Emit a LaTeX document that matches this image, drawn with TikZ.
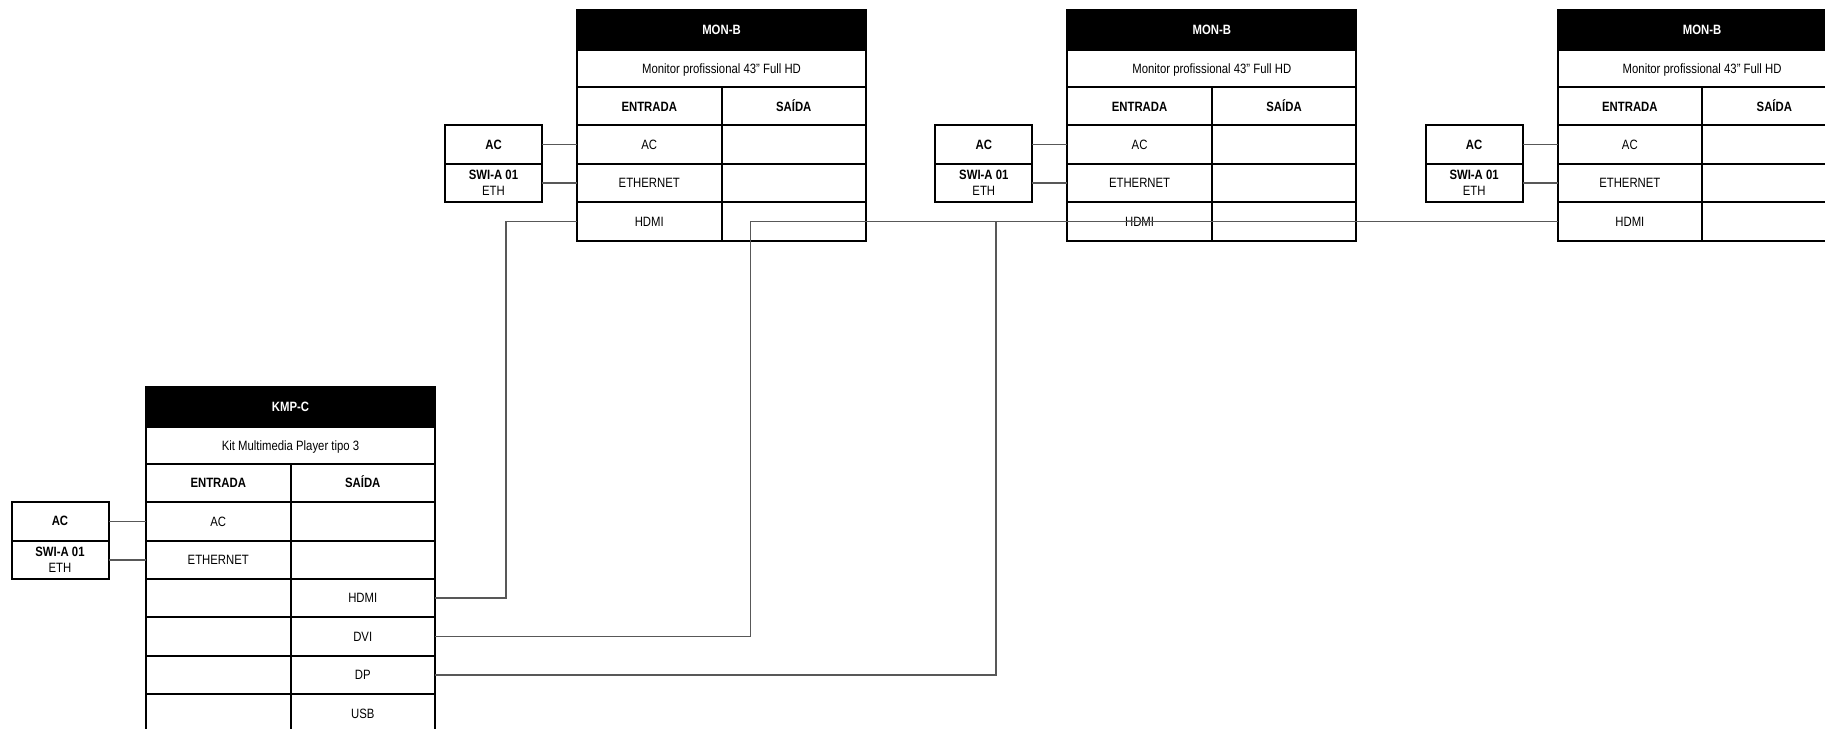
\documentclass[tikz,border=0pt]{standalone}
\usepackage{fontspec}
\setmainfont{Liberation Sans}[FakeStretch=0.84]
\usetikzlibrary{positioning,calc}

\definecolor{wiregray}{HTML}{585858}
\newcommand\cellfont{\fontsize{13.5}{16}\selectfont}

\begin{document}
\begin{tikzpicture}[x=1pt, y=-1pt,
    head/.style={rectangle, draw=black, fill=black, text=white, font=\cellfont\bfseries, line width=2pt, minimum width=289pt, minimum height=40pt, text height=9.7pt, text depth=0pt, inner sep=0pt, outer sep=0pt},
    desc/.style={rectangle, draw, line width=2pt, minimum width=289pt, minimum height=37pt, text height=9.7pt, text depth=0pt, inner sep=0pt, outer sep=0pt, font=\cellfont},
    cell/.style={rectangle, draw, line width=2pt, minimum width=144.5pt, minimum height=38.4pt, text height=9.7pt, text depth=0pt, inner sep=0pt, outer sep=0pt, font=\cellfont},
    side/.style={rectangle, draw, line width=2pt, minimum width=97pt, minimum height=38.4pt, inner sep=0pt, outer sep=0pt, font=\cellfont, align=center},
    wire/.style={draw=wiregray, line width=1.6pt}]
        \useasboundingbox (0,0) rectangle (1825,728);

        % Monitores MON-B
        \foreach \i/\x in {1/577, 2/1067.3, 3/1557.6} {
            \node (mon\i-head) [head, anchor=north west] at (\x,10) {MON-B};
            \node (mon\i-desc) [desc, below=0pt of mon\i-head] {Monitor profissional 43" Full HD};
            \node (mon\i-in0) [cell, font=\cellfont\bfseries, anchor=north west] at (mon\i-desc.south west) {ENTRADA};
            \node (mon\i-out0) [cell, font=\cellfont\bfseries, right=0pt of mon\i-in0] {SAÍDA};
            \foreach \n/\a [remember=\n as \p (initially 0)] in {1/AC, 2/ETHERNET, 3/HDMI} {
                \node (mon\i-in\n) [cell, below=0pt of mon\i-in\p] {\a};
                \node (mon\i-out\n) [cell, right=0pt of mon\i-in\n] {};
            }
            % alimentacao e rede
            \node (mon\i-ac) [side, font=\cellfont\bfseries, left=35pt of mon\i-in1] {AC};
            \node (mon\i-eth) [side, below=0pt of mon\i-ac] {\textbf{SWI-A 01}\\ETH};
            \draw[wire] (mon\i-ac) -- (mon\i-in1);
            \draw[wire] (mon\i-eth) -- (mon\i-in2);
        }

        % Player KMP-C
        \node (kmp-head) [head, anchor=north west] at (146,386.7) {KMP-C};
        \node (kmp-desc) [desc, below=0pt of kmp-head] {Kit Multimedia Player tipo 3};
        \node (kmp-in0) [cell, font=\cellfont\bfseries, anchor=north west] at (kmp-desc.south west) {ENTRADA};
        \node (kmp-out0) [cell, font=\cellfont\bfseries, right=0pt of kmp-in0] {SAÍDA};
        \foreach \n/\a/\b [remember=\n as \p (initially 0)] in {1/AC/, 2/ETHERNET/, 3//HDMI, 4//DVI, 5//DP, 6//USB} {
            \node (kmp-in\n) [cell, below=0pt of kmp-in\p] {\a};
            \node (kmp-out\n) [cell, right=0pt of kmp-in\n] {\b};
        }
        \node (kmp-ac) [side, font=\cellfont\bfseries, left=37.5pt of kmp-in1] {AC};
        \node (kmp-eth) [side, below=0pt of kmp-ac] {\textbf{SWI-A 01}\\ETH};
        \draw[wire] (kmp-ac) -- (kmp-in1);
        \draw[wire] (kmp-eth) -- (kmp-in2);

        % Video
        \draw[wire] (kmp-out3.east) -| ($(mon1-in3.west)+(-71,0)$) -- (mon1-in3.west);
        \draw[wire] (kmp-out4.east) -| ($(mon1-out3.west)+(29,0)$) -- (mon2-in3.west);
        \draw[wire] (kmp-out5.east) -| ($(mon2-in3.west)+(-71.6,0)$) -- (mon3-in3.west);
    \end{tikzpicture}
\end{document}
